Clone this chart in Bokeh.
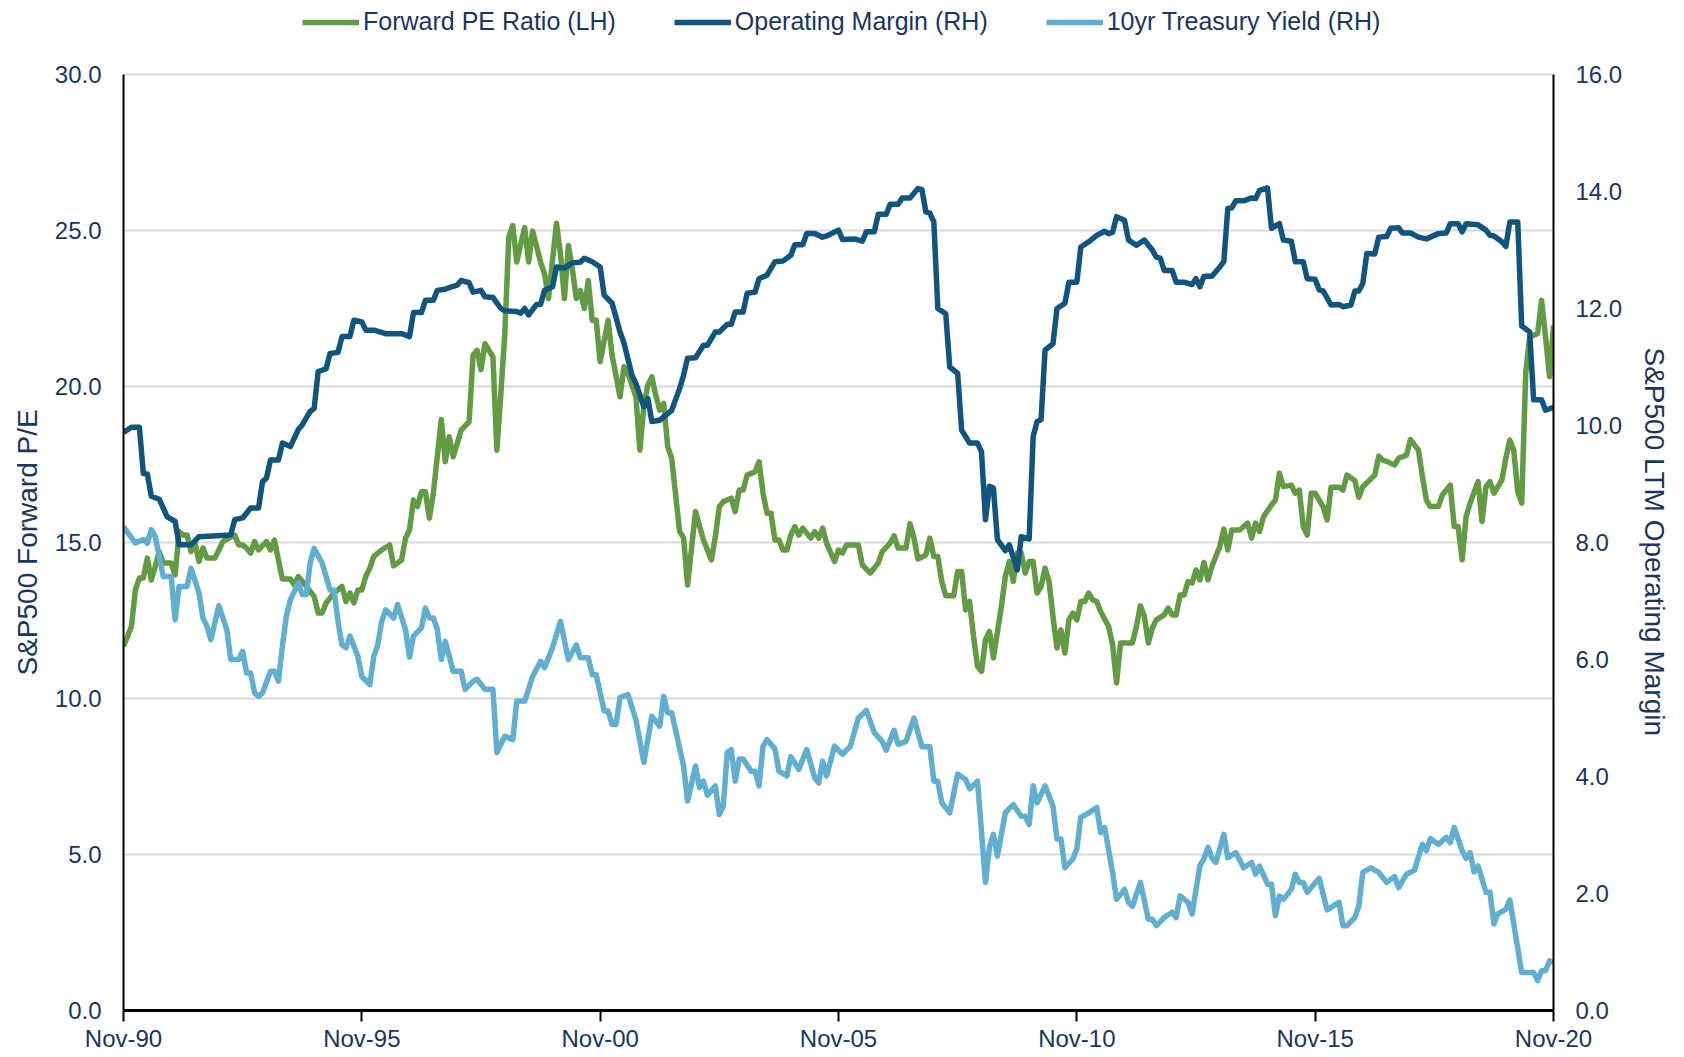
from bokeh.plotting import figure
from bokeh.models import Range1d, LinearAxis, Legend, LegendItem, FixedTicker, NumeralTickFormatter, Title
from bokeh.embed import file_html
from bokeh.resources import INLINE

# ---------------- data (months since Nov-1990) ----------------
xtick_months = [0, 60, 120, 180, 240, 300, 360]
xtick_labels = ["Nov-90", "Nov-95", "Nov-00", "Nov-05", "Nov-10", "Nov-15", "Nov-20"]
left_ticks = [0, 5, 10, 15, 20, 25, 30]
right_ticks = [0, 2, 4, 6, 8, 10, 12, 14, 16]

pe_month = [0, 2, 3, 4, 5, 6, 7, 8, 9, 10, 12, 13, 14, 15, 16, 17, 18, 19, 20, 21, 23, 24, 25, 26, 28, 29, 30, 31, 32, 33,
            34, 36, 37, 38, 39, 40, 42, 43, 44, 46, 47, 48, 49, 50, 51, 53, 55, 56, 57, 58, 59, 60, 61, 62, 63, 64, 65, 67, 68, 70,
            71, 72, 73, 74, 75, 76, 77, 78, 79, 80, 81, 82, 83, 85, 87, 88, 89, 90, 91, 93, 94, 95, 96, 97, 98, 99, 100, 101, 102, 103,
            105, 106, 107, 108, 109, 110, 111, 112, 113, 114, 115, 116, 117, 118, 119, 120, 122, 123, 125, 126, 127, 129, 130, 131, 132, 133, 134, 135, 136, 137,
            138, 140, 141, 142, 144, 146, 148, 149, 150, 151, 153, 154, 155, 156, 157, 159, 160, 161, 162, 163, 164, 165, 166, 167, 168, 169, 170, 171, 173, 174,
            175, 176, 177, 179, 180, 181, 182, 184, 185, 186, 188, 190, 191, 193, 194, 195, 197, 198, 199, 200, 202, 203, 204, 205, 206, 207, 209, 210, 211, 212,
            213, 214, 215, 216, 217, 218, 219, 221, 222, 223, 224, 225, 226, 227, 228, 229, 230, 231, 232, 233, 234, 235, 236, 237, 238, 239, 240, 241, 242, 243,
            244, 245, 246, 248, 249, 250, 251, 252, 254, 255, 256, 257, 258, 259, 260, 262, 263, 264, 265, 266, 267, 268, 269, 270, 271, 272, 273, 274, 276, 277,
            278, 279, 281, 283, 284, 285, 286, 287, 289, 290, 291, 292, 294, 295, 296, 297, 298, 299, 300, 302, 303, 304, 306, 307, 308, 310, 311, 312, 315, 316,
            317, 318, 320, 321, 323, 324, 326, 327, 328, 329, 331, 332, 334, 335, 336, 337, 338, 339, 341, 342, 343, 344, 345, 347, 348, 349, 350, 351, 352, 353,
            354, 356, 357, 358, 359, 360]
pe_value = [11.67, 12.31, 13.48, 13.86, 13.86, 14.50, 13.80, 14.23, 14.71, 14.34, 14.34, 13.96, 15.35, 15.24, 15.24, 14.71, 14.98, 14.39, 14.82, 14.50, 14.50, 14.76, 15.03, 15.10, 15.24, 14.92, 14.92, 14.82, 14.66, 15.03,
            14.76, 15.03, 14.76, 15.08, 14.44, 13.83, 13.83, 13.64, 13.91, 13.60, 13.43, 13.27, 12.74, 12.74, 13.06, 13.38, 13.59, 13.11, 13.38, 13.06, 13.48, 13.48, 13.91, 14.18, 14.55, 14.66, 14.76, 14.92, 14.25, 14.44,
            15.14, 15.40, 16.36, 16.15, 16.63, 16.63, 15.78, 16.58, 17.75, 18.94, 17.59, 18.39, 17.75, 18.60, 18.87, 21.00, 21.16, 20.54, 21.37, 20.95, 17.96, 19.78, 21.70, 24.79, 25.16, 23.99, 24.57, 25.09, 23.99, 24.98,
            23.99, 23.61, 22.82, 24.04, 25.23, 24.26, 22.82, 24.52, 23.77, 22.82, 23.08, 22.50, 23.40, 22.12, 22.12, 20.79, 22.12, 21.00, 19.67, 20.63, 20.42, 19.67, 17.96, 19.40, 20.04, 20.31, 19.72, 19.24, 19.46, 18.07,
            17.70, 15.35, 15.15, 13.64, 15.99, 15.08, 14.44, 15.19, 16.15, 16.31, 16.42, 15.99, 16.68, 16.68, 17.16, 17.27, 17.59, 16.58, 15.94, 15.94, 15.08, 15.08, 14.76, 14.76, 15.24, 15.51, 15.24, 15.46, 15.14, 15.35,
            15.14, 15.46, 14.98, 14.39, 14.76, 14.66, 14.92, 14.92, 14.92, 14.28, 14.02, 14.34, 14.71, 14.98, 15.21, 14.82, 14.82, 15.60, 15.14, 14.47, 14.60, 15.14, 14.55, 14.55, 13.75, 13.29, 13.29, 14.07, 14.07, 12.84,
            13.11, 11.99, 11.03, 10.87, 11.88, 12.15, 11.30, 12.95, 13.91, 14.39, 13.75, 14.66, 14.66, 14.02, 14.39, 14.39, 13.38, 13.59, 14.18, 13.75, 12.63, 11.62, 12.20, 11.46, 12.52, 12.74, 12.52, 13.11, 13.11, 13.38,
            13.16, 13.11, 12.79, 12.31, 11.72, 10.50, 11.78, 11.78, 11.78, 12.31, 12.97, 12.63, 11.78, 12.26, 12.52, 12.68, 12.90, 12.68, 12.68, 13.32, 13.32, 13.75, 13.70, 14.12, 13.80, 14.36, 13.80, 14.23, 14.87, 15.43,
            14.76, 15.40, 15.40, 15.62, 15.14, 15.62, 15.35, 15.83, 16.20, 16.36, 17.22, 16.79, 16.84, 16.58, 16.68, 15.51, 15.24, 16.58, 16.58, 16.15, 15.72, 16.77, 16.77, 16.68, 17.16, 16.98, 16.45, 16.79, 17.16, 17.77,
            17.64, 17.60, 17.48, 17.70, 17.80, 18.30, 17.96, 17.11, 16.36, 16.15, 16.15, 16.52, 16.84, 15.51, 15.51, 14.44, 15.83, 16.26, 16.95, 15.67, 16.79, 16.95, 16.58, 17.00, 17.70, 18.28, 17.96, 16.63, 16.26, 20.42,
            21.59, 21.70, 22.76, 21.59, 20.31, 21.96]

om_month = [0, 2, 4, 5, 6, 7, 9, 11, 13, 14, 17, 19, 27, 28, 30, 32, 34, 35, 36, 37, 39, 40, 42, 44, 45, 47, 48, 49, 51, 52,
            54, 55, 57, 58, 60, 61, 63, 66, 70, 72, 73, 75, 76, 78, 79, 81, 83, 84, 85, 87, 88, 90, 91, 93, 95, 96, 99, 100, 101, 102,
            104, 105, 106, 108, 109, 111, 113, 115, 116, 118, 120, 121, 123, 125, 126, 128, 129, 131, 132, 133, 135, 138, 140, 141, 142, 144, 146, 147, 149, 150,
            152, 153, 154, 156, 157, 159, 160, 162, 164, 166, 168, 169, 171, 172, 174, 176, 177, 180, 181, 184, 186, 187, 189, 190, 192, 193, 195, 196, 198, 200,
            201, 202, 203, 204, 205, 207, 208, 210, 211, 213, 215, 216, 217, 218, 219, 220, 222, 223, 225, 226, 228, 229, 230, 231, 232, 234, 235, 237, 238, 240,
            241, 243, 245, 247, 248, 249, 250, 252, 253, 255, 257, 259, 260, 261, 262, 264, 265, 267, 269, 270, 271, 272, 274, 276, 277, 278, 279, 280, 282, 284,
            285, 286, 288, 289, 291, 292, 294, 295, 297, 298, 300, 301, 302, 304, 306, 307, 309, 310, 311, 312, 313, 315, 316, 318, 319, 321, 322, 324, 326, 328,
            331, 333, 334, 336, 337, 338, 341, 343, 344, 345, 347, 348, 349, 351, 352, 354, 355, 357, 358, 360]
om_value = [9.88, 9.97, 9.97, 9.18, 9.17, 8.79, 8.74, 8.44, 8.36, 7.96, 7.96, 8.10, 8.13, 8.39, 8.42, 8.59, 8.59, 9.04, 9.10, 9.41, 9.41, 9.70, 9.64, 9.93, 10.01, 10.24, 10.29, 10.92, 10.97, 11.23,
            11.25, 11.52, 11.52, 11.80, 11.77, 11.63, 11.63, 11.57, 11.57, 11.52, 11.93, 11.93, 12.14, 12.14, 12.31, 12.33, 12.38, 12.40, 12.48, 12.44, 12.28, 12.31, 12.20, 12.19, 12.00, 11.96, 11.95, 11.92, 12.00, 11.89,
            12.07, 12.07, 12.31, 12.37, 12.71, 12.69, 12.78, 12.79, 12.86, 12.80, 12.71, 12.23, 12.09, 11.60, 11.41, 10.86, 10.72, 10.32, 10.46, 10.07, 10.09, 10.26, 10.63, 10.86, 11.15, 11.16, 11.37, 11.37, 11.60, 11.60,
            11.73, 11.73, 11.94, 11.94, 12.26, 12.28, 12.51, 12.57, 12.80, 12.81, 12.91, 13.09, 13.09, 13.28, 13.28, 13.22, 13.24, 13.34, 13.18, 13.19, 13.15, 13.31, 13.31, 13.61, 13.61, 13.78, 13.78, 13.89, 13.89, 14.05,
            14.03, 13.65, 13.63, 13.48, 12.00, 11.91, 11.00, 10.89, 9.92, 9.70, 9.70, 9.55, 8.39, 8.96, 8.93, 8.05, 7.86, 7.96, 7.53, 8.10, 8.06, 9.81, 10.07, 10.10, 11.29, 11.40, 12.00, 12.09, 12.45, 12.45,
            13.05, 13.14, 13.25, 13.32, 13.28, 13.30, 13.57, 13.51, 13.17, 13.08, 13.17, 13.00, 12.88, 12.86, 12.65, 12.65, 12.45, 12.45, 12.41, 12.51, 12.37, 12.55, 12.55, 12.71, 12.80, 13.71, 13.72, 13.84, 13.84, 13.89,
            13.88, 14.02, 14.06, 13.37, 13.45, 13.17, 13.15, 12.80, 12.80, 12.51, 12.50, 12.32, 12.30, 12.06, 12.07, 12.03, 12.06, 12.30, 12.30, 12.43, 12.94, 12.93, 13.22, 13.23, 13.37, 13.38, 13.29, 13.29, 13.22, 13.19,
            13.28, 13.29, 13.45, 13.45, 13.31, 13.45, 13.43, 13.34, 13.25, 13.24, 13.14, 13.06, 13.48, 13.48, 11.70, 11.60, 10.44, 10.44, 10.26, 10.31]

ty_month = [0, 3, 5, 6, 7, 8, 10, 12, 13, 14, 16, 17, 19, 20, 21, 22, 24, 26, 27, 29, 30, 31, 32, 33, 34, 35, 37, 38, 39, 40,
            41, 42, 43, 44, 45, 46, 47, 48, 50, 52, 53, 54, 55, 56, 57, 58, 59, 60, 62, 63, 64, 65, 66, 68, 69, 71, 72, 73, 75, 76,
            77, 78, 79, 80, 81, 83, 85, 86, 88, 89, 91, 93, 94, 96, 98, 99, 101, 103, 105, 106, 108, 110, 112, 114, 115, 117, 118, 119, 121, 122,
            123, 124, 125, 127, 129, 131, 133, 135, 136, 137, 138, 141, 142, 144, 145, 146, 147, 149, 150, 151, 152, 153, 154, 155, 156, 158, 159, 160, 161, 162,
            164, 165, 167, 168, 170, 172, 174, 175, 176, 177, 179, 181, 183, 185, 187, 189, 191, 192, 194, 195, 197, 199, 201, 203, 204, 205, 206, 208, 210, 212,
            213, 215, 217, 218, 219, 220, 222, 224, 226, 227, 228, 229, 230, 232, 234, 235, 236, 237, 239, 240, 241, 243, 245, 246, 247, 249, 250, 252, 253, 254,
            256, 258, 259, 260, 262, 264, 265, 266, 268, 269, 271, 272, 273, 274, 275, 277, 278, 280, 282, 284, 285, 286, 288, 289, 290, 291, 292, 294, 295, 296,
            297, 298, 301, 303, 306, 307, 308, 310, 311, 312, 314, 316, 318, 320, 321, 323, 325, 327, 328, 329, 331, 333, 334, 335, 337, 338, 339, 340, 341, 343,
            344, 345, 346, 348, 349, 352, 355, 356, 357, 358, 359, 360]
ty_value = [8.27, 7.99, 8.05, 7.99, 8.22, 8.10, 7.42, 7.42, 6.68, 7.25, 7.25, 7.56, 7.14, 6.71, 6.57, 6.34, 6.92, 6.51, 6.00, 6.00, 6.14, 5.77, 5.77, 5.43, 5.37, 5.43, 5.80, 5.80, 5.63, 6.23,
            6.74, 7.02, 7.16, 7.31, 7.11, 7.11, 7.65, 7.90, 7.65, 7.19, 7.19, 6.65, 6.25, 6.20, 6.40, 6.23, 6.05, 5.71, 5.57, 6.05, 6.25, 6.65, 6.85, 6.71, 6.94, 6.51, 6.04, 6.40, 6.54, 6.88,
            6.71, 6.71, 6.51, 6.00, 6.31, 5.80, 5.80, 5.49, 5.63, 5.66, 5.49, 5.49, 4.41, 4.69, 4.63, 5.29, 5.29, 5.71, 5.97, 5.86, 6.20, 6.65, 6.00, 6.25, 6.03, 6.03, 5.74, 5.74, 5.12, 5.12,
            4.89, 4.89, 5.35, 5.40, 4.97, 4.24, 5.03, 4.86, 5.37, 5.09, 5.09, 4.18, 3.58, 4.18, 3.81, 3.92, 3.68, 3.84, 3.35, 3.50, 4.41, 4.46, 3.92, 4.30, 4.30, 4.09, 4.09, 3.84, 4.52, 4.63,
            4.47, 4.09, 4.01, 4.34, 4.12, 4.46, 3.98, 3.89, 4.26, 4.01, 4.52, 4.38, 4.52, 5.00, 5.13, 4.75, 4.60, 4.45, 4.79, 4.55, 4.60, 5.00, 4.51, 4.51, 3.92, 3.92, 3.55, 3.38, 4.04, 3.95,
            3.79, 3.92, 2.19, 2.79, 3.01, 2.64, 3.38, 3.52, 3.32, 3.32, 3.18, 3.84, 3.55, 3.84, 3.49, 2.93, 2.93, 2.44, 2.59, 2.76, 3.30, 3.38, 3.47, 3.04, 3.13, 2.36, 1.90, 2.07, 1.85, 1.78,
            2.19, 1.56, 1.56, 1.45, 1.59, 1.68, 1.59, 1.96, 1.85, 1.65, 2.48, 2.59, 2.79, 2.61, 2.53, 3.01, 2.61, 2.70, 2.44, 2.53, 2.33, 2.47, 2.16, 2.16, 1.62, 1.96, 1.90, 2.07, 2.33, 2.19,
            2.19, 2.02, 2.26, 1.72, 1.85, 1.45, 1.45, 1.59, 1.79, 2.36, 2.44, 2.36, 2.19, 2.29, 2.10, 2.33, 2.40, 2.84, 2.73, 2.94, 2.84, 2.96, 2.87, 3.13, 2.73, 2.60, 2.70, 2.37, 2.47, 2.02,
            2.02, 1.48, 1.65, 1.73, 1.89, 0.65, 0.65, 0.51, 0.68, 0.68, 0.85, 0.83]

# ---------------- style ----------------
GREEN = "#639b44"
NAVY = "#11557f"
LIGHT = "#60aed0"
TEXT = "#17375e"
FONT = "Liberation Sans"

# the frame reaches the top of the canvas (room for the legend); the axes stop at 30 / 16
LEFT_TOP = 30 * 1010 / 936
RIGHT_TOP = 16 * LEFT_TOP / 30

p = figure(width=1684, height=1054, x_range=Range1d(0, 360), y_range=Range1d(0, LEFT_TOP),
           output_backend="svg", toolbar_location=None,
           min_border_left=121, min_border_right=131, min_border_top=0, min_border_bottom=30)
p.extra_y_ranges = {"right": Range1d(0, RIGHT_TOP)}
p.outline_line_color = None
p.background_fill_color = "white"
p.border_fill_color = "white"

p.xgrid.visible = False
p.ygrid.grid_line_color = "#d9d9d9"
p.ygrid.grid_line_width = 2

# x axis
xa = p.xaxis[0]
xa.ticker = FixedTicker(ticks=xtick_months)
xa.major_label_overrides = {m: l for m, l in zip(xtick_months, xtick_labels)}
xa.axis_line_color = "black"
xa.axis_line_width = 3
xa.major_tick_line_color = "black"
xa.major_tick_line_width = 2
xa.major_tick_out = 11
xa.major_tick_in = 0
xa.minor_tick_line_color = None
xa.major_label_standoff = 3
xa.major_label_text_font = FONT
xa.major_label_text_font_size = "24px"
xa.major_label_text_color = TEXT

# left axis
ya = p.yaxis[0]
ya.ticker = FixedTicker(ticks=left_ticks)
ya.bounds = (0, 30)
ya.formatter = NumeralTickFormatter(format="0.0")
ya.axis_line_color = "black"
ya.axis_line_width = 2
ya.major_tick_line_color = None
ya.major_tick_out = 0
ya.major_tick_in = 0
ya.minor_tick_line_color = None
ya.major_label_standoff = 22
ya.major_label_text_font = FONT
ya.major_label_text_font_size = "24px"
ya.major_label_text_color = TEXT

# right axis
ra = LinearAxis(y_range_name="right", ticker=FixedTicker(ticks=right_ticks),
                formatter=NumeralTickFormatter(format="0.0"), bounds=(0, 16))
ra.axis_line_color = "black"
ra.axis_line_width = 2
ra.major_tick_line_color = None
ra.major_tick_out = 0
ra.major_tick_in = 0
ra.minor_tick_line_color = None
ra.major_label_standoff = 22
ra.major_label_text_font = FONT
ra.major_label_text_font_size = "24px"
ra.major_label_text_color = TEXT
p.add_layout(ra, "right")

# axis titles, centred on the 0-30 / 0-16 part of the frame
p.add_layout(Title(text="S&P500 Forward P/E", align="left", offset=335, standoff=18,
                   text_font=FONT, text_font_size="28px", text_font_style="normal",
                   text_color=TEXT), "left")
p.add_layout(Title(text="S&P500 LTM Operating Margin", align="left", offset=347, standoff=26,
                   text_font=FONT, text_font_size="28px", text_font_style="normal",
                   text_color=TEXT), "right")

# lines
r_pe = p.line(pe_month, pe_value, line_color=GREEN, line_width=5.5, line_join="round")
r_om = p.line(om_month, om_value, line_color=NAVY, line_width=5.5, line_join="round", y_range_name="right")
r_ty = p.line(ty_month, ty_value, line_color=LIGHT, line_width=5.5, line_join="round", y_range_name="right")

legend = Legend(items=[LegendItem(label="Forward PE Ratio (LH)", renderers=[r_pe]),
                       LegendItem(label="Operating Margin (RH)", renderers=[r_om]),
                       LegendItem(label="10yr Treasury Yield (RH)", renderers=[r_ty])],
                orientation="horizontal", location=(179, 974),
                glyph_width=57, glyph_height=26, label_standoff=4, spacing=58,
                padding=0, margin=0, border_line_color=None, background_fill_alpha=0,
                label_text_font=FONT, label_text_font_size="25px", label_text_color=TEXT)
p.add_layout(legend, "center")

open("out.html", "w").write(file_html(p, INLINE))
